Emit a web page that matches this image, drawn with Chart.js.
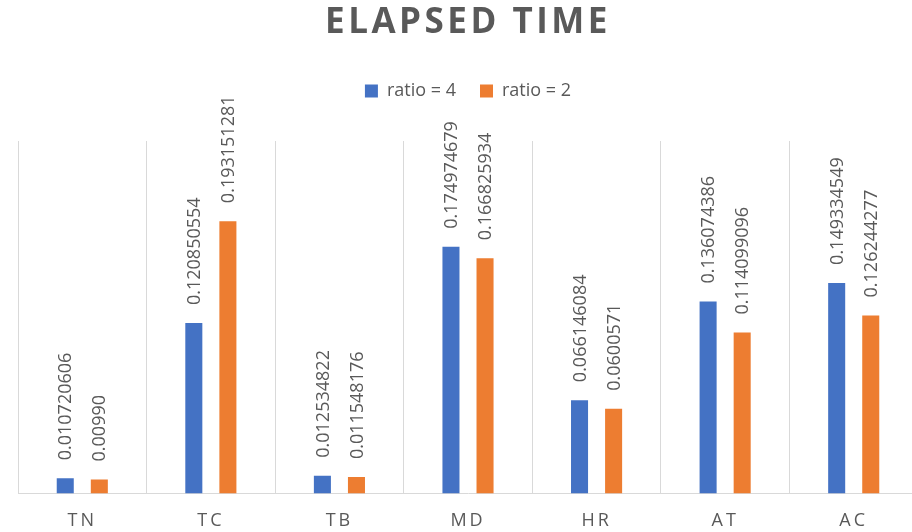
<!DOCTYPE html>
<html>
<head>
<meta charset="utf-8">
<script src="https://cdn.jsdelivr.net/npm/chart.js@4/dist/chart.umd.min.js"></script>
<style>
  html, body { margin: 0; padding: 0; background: #ffffff; overflow: hidden; }
  #wrap { width: 912px; height: 532px; overflow: hidden; position: relative; }
  #chart { display: block; }
</style>
</head>
<body>
<div id="wrap"><canvas id="chart" width="936" height="532"></canvas></div>
<script>
// Benchmarks on the category axis
const categories = ['TN', 'TC', 'TB', 'MD', 'HR', 'AT', 'AC'];

// Elapsed time per benchmark, as printed above each bar
const ratio4Labels = ['0.010720606', '0.120850554', '0.012534822', '0.174974679', '0.066146084', '0.136074386', '0.149334549'];
const ratio2Labels = ['0.00990', '0.193151281', '0.011548176', '0.166825934', '0.0600571', '0.114099096', '0.126244277'];

const ratio4Values = ratio4Labels.map(Number);
const ratio2Values = ratio2Labels.map(Number);

const seriesNames = ['ratio = 4', 'ratio = 2'];

const TEXT_GRAY = '#595959';
const FONT = '"Open Sans", "Liberation Sans", sans-serif';

// Rotated value labels above each bar; afterwards switch on letter spacing
// for the category labels, which are drawn in a later layer (z: 1).
const valueLabels = {
  id: 'valueLabels',
  afterDatasetsDraw(chart) {
    const ctx = chart.ctx;
    const texts = [ratio4Labels, ratio2Labels];
    chart.data.datasets.forEach((ds, di) => {
      const meta = chart.getDatasetMeta(di);
      meta.data.forEach((bar, i) => {
        ctx.save();
        ctx.letterSpacing = '0px';
        ctx.font = '18px ' + FONT;
        ctx.fillStyle = TEXT_GRAY;
        ctx.textAlign = 'left';
        ctx.textBaseline = 'middle';
        ctx.translate(bar.x + 1, bar.y - 18);
        ctx.rotate(-Math.PI / 2);
        ctx.fillText(texts[di][i], 0, 0);
        ctx.restore();
      });
    });
    ctx.letterSpacing = '3px';
  },
  afterDraw(chart) {
    chart.ctx.letterSpacing = '0px';
  }
};

// Spaced-out title lettering and extra room below the legend
const layoutTweaks = {
  id: 'layoutTweaks',
  beforeInit(chart) {
    const legend = chart.legend;
    const fit = legend.fit;
    legend.fit = function () {
      fit.call(this);
      this.height += 31;
    };
    const title = chart.titleBlock;
    const draw = title.draw;
    title.draw = function () {
      const ctx = this.ctx;
      ctx.save();
      ctx.letterSpacing = '3.5px';
      draw.call(this);
      ctx.restore();
    };
  }
};

new Chart(document.getElementById('chart'), {
  type: 'bar',
  data: {
    labels: categories,
    datasets: [
      {
        label: seriesNames[0],
        data: ratio4Values,
        backgroundColor: '#4472C4',
        categoryPercentage: 0.53,
        barPercentage: 0.5
      },
      {
        label: seriesNames[1],
        data: ratio2Values,
        backgroundColor: '#ED7D31',
        categoryPercentage: 0.53,
        barPercentage: 0.5
      }
    ]
  },
  options: {
    responsive: false,
    animation: false,
    devicePixelRatio: 1,
    layout: { padding: { left: 18, right: 18, top: 0, bottom: -17 } },
    plugins: {
      title: {
        display: true,
        text: 'ELAPSED TIME',
        color: TEXT_GRAY,
        font: { family: FONT, size: 35, weight: 'bold', lineHeight: 1.2 },
        padding: { top: 2, bottom: 14 }
      },
      legend: {
        display: true,
        position: 'top',
        labels: {
          color: TEXT_GRAY,
          font: { family: FONT, size: 18 },
          boxWidth: 13,
          boxHeight: 13,
          padding: 24
        }
      },
      tooltip: { enabled: false }
    },
    scales: {
      x: {
        grid: {
          display: true,
          offset: true,
          color: '#d9d9d9',
          lineWidth: 1,
          drawTicks: false
        },
        border: { display: true, color: '#d9d9d9', width: 1 },
        ticks: {
          color: TEXT_GRAY,
          font: { family: FONT, size: 18 },
          padding: 17,
          z: 1
        }
      },
      y: {
        display: false,
        min: 0,
        max: 0.25
      }
    }
  },
  plugins: [valueLabels, layoutTweaks]
});
</script>
</body>
</html>
